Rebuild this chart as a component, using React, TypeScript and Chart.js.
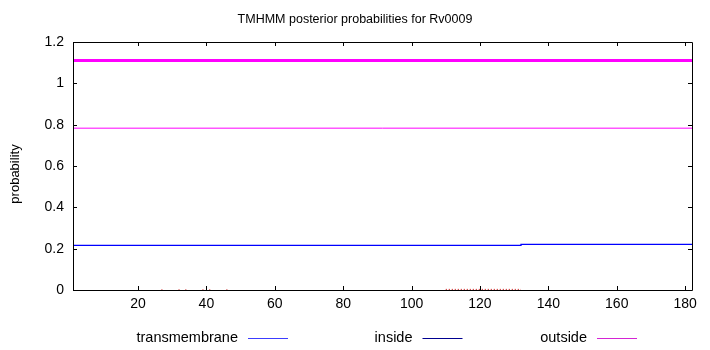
import React, { useEffect, useRef } from "react";
import { Chart, registerables } from "chart.js";

Chart.register(...registerables);

// ---- data ----
const xMin = 1;
const xMax = 182;
const xTickValues = [20, 40, 60, 80, 100, 120, 140, 160, 180];
const yTickValues = [0, 0.2, 0.4, 0.6, 0.8, 1, 1.2];

const titleText = "TMHMM posterior probabilities for Rv0009";
const yTitleText = "probability";

const legendLabels = ["transmembrane", "inside", "outside"];
const legendColors = ["#3c3cff", "#000090", "#d424d4"];

const upperX = [1, 182];
const upperY = [1.111, 1.111];
const lowerX = [1, 182];
const lowerY = [0.783, 0.783];
const insideX = [1, 132, 182];
const insideY = [0.216, 0.221, 0.221];
const tmSegX = [110, 132];
const tmSegY = [0.003, 0.003];
const tmDotX = [27, 32, 34, 39, 41, 46];
const tmDotY = [0.003, 0.003, 0.003, 0.003, 0.003, 0.003];

const FONT = "'Liberation Sans', Arial, Helvetica, sans-serif";

const toPoints = (xs: number[], ys: number[]) => xs.map((x, i) => ({ x, y: ys[i] }));

const framePlugin = {
  id: "frame",
  afterDraw(chart: any) {
    const { ctx, chartArea } = chart;
    const { left, right, top, bottom } = chartArea;
    const xs = chart.scales.x;
    const ys = chart.scales.y;
    ctx.save();
    ctx.strokeStyle = "#000";
    ctx.lineWidth = 1;
    ctx.beginPath();
    ctx.rect(Math.round(left) + 0.5, Math.round(top) + 0.5, Math.round(right - left), Math.round(bottom - top));
    ctx.stroke();
    const tl = 4;
    ctx.beginPath();
    for (const v of xTickValues) {
      const px = Math.round(xs.getPixelForValue(v)) + 0.5;
      ctx.moveTo(px, bottom);
      ctx.lineTo(px, bottom - tl);
      ctx.moveTo(px, top);
      ctx.lineTo(px, top + tl);
    }
    for (const v of yTickValues) {
      const py = Math.round(ys.getPixelForValue(v)) + 0.5;
      ctx.moveTo(left, py);
      ctx.lineTo(left + tl, py);
      ctx.moveTo(right, py);
      ctx.lineTo(right - tl, py);
    }
    ctx.stroke();

    // title
    ctx.fillStyle = "#000";
    ctx.font = `12.5px ${FONT}`;
    ctx.textAlign = "center";
    ctx.textBaseline = "middle";
    ctx.fillText(titleText, chart.width / 2, 20);

    // y title
    ctx.save();
    ctx.translate(15, 174);
    ctx.rotate(-Math.PI / 2);
    ctx.font = `13px ${FONT}`;
    ctx.fillText(yTitleText, 0, 0);
    ctx.restore();

    // legend
    ctx.font = `14.5px ${FONT}`;
    ctx.textAlign = "right";
    legendLabels.forEach((label, i) => {
      const tr = 238 + i * 174.5;
      const ly = 338;
      ctx.fillStyle = "#000";
      ctx.fillText(label, tr, ly);
      ctx.strokeStyle = legendColors[i];
      ctx.lineWidth = 1;
      ctx.beginPath();
      ctx.moveTo(tr + 10, Math.round(ly) + 0.5);
      ctx.lineTo(tr + 50, Math.round(ly) + 0.5);
      ctx.stroke();
    });
    ctx.restore();
  },
};

export default function App() {
  const ref = useRef<HTMLCanvasElement | null>(null);
  useEffect(() => {
    document.body.style.margin = "0";
    const canvas = ref.current;
    if (!canvas) return;
    const chart = new Chart(canvas, {
      type: "line",
      data: {
        datasets: [
          {
            label: "outside-high",
            data: toPoints(upperX, upperY),
            borderColor: "#ff00ff",
            borderWidth: 3,
            pointRadius: 0,
          },
          {
            label: "outside-low",
            data: toPoints(lowerX, lowerY),
            borderColor: "#ff00ff",
            borderWidth: 1,
            pointRadius: 0,
          },
          {
            label: "inside",
            data: toPoints(insideX, insideY),
            borderColor: "#0000ff",
            borderWidth: 1.3,
            pointRadius: 0,
            stepped: "before",
          },
          {
            label: "transmembrane",
            data: toPoints(tmSegX, tmSegY),
            borderColor: "#c00000",
            borderWidth: 1,
            borderDash: [1, 2],
            pointRadius: 0,
          },
          {
            label: "transmembrane-dots",
            data: toPoints(tmDotX, tmDotY),
            borderColor: "#c00000",
            backgroundColor: "#c00000",
            showLine: false,
            pointStyle: "rect",
            pointRadius: 0.6,
            borderWidth: 0,
          },
        ],
      },
      options: {
        animation: false,
        responsive: false,
        parsing: true,
        layout: { padding: { top: 42, right: 18, left: 0, bottom: 0 } },
        plugins: {
          legend: { display: false },
          title: { display: false },
          tooltip: { enabled: false },
        },
        scales: {
          x: {
            type: "linear",
            min: xMin,
            max: xMax,
            afterBuildTicks: (s: any) => {
              s.ticks = xTickValues.map((v) => ({ value: v }));
            },
            afterFit: (s: any) => {
              s.height = 60;
            },
            grid: { display: false, drawTicks: false },
            border: { display: false },
            ticks: {
              padding: 6,
              color: "#000",
              font: { family: FONT, size: 14 },
              maxRotation: 0,
              autoSkip: false,
              callback: (v: any) => String(v),
            },
          },
          y: {
            type: "linear",
            min: 0,
            max: 1.2,
            afterBuildTicks: (s: any) => {
              s.ticks = yTickValues.map((v) => ({ value: v }));
            },
            afterFit: (s: any) => {
              s.width = 73;
            },
            grid: { display: false, drawTicks: false },
            border: { display: false },
            ticks: {
              padding: 9,
              color: "#000",
              font: { family: FONT, size: 14 },
              autoSkip: false,
              callback: (v: any) => String(Math.round(v * 10) / 10),
            },
          },
        },
      },
      plugins: [framePlugin],
    });
    return () => chart.destroy();
  }, []);
  return <canvas ref={ref} width={710} height={350} style={{ display: "block" }} />;
}
